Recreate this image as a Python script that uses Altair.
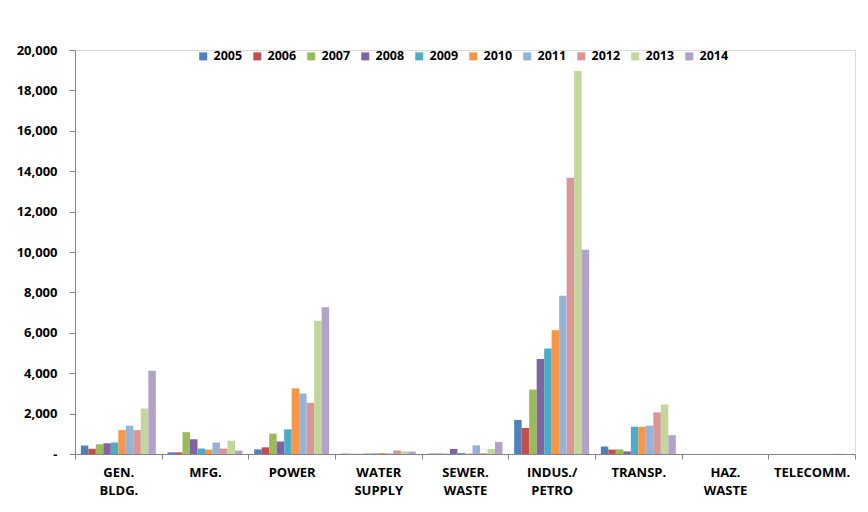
import altair as alt
import pandas as pd

categories = ["GEN.|BLDG.", "MFG.", "POWER", "WATER|SUPPLY", "SEWER.|WASTE",
              "INDUS./|PETRO", "TRANSP.", "HAZ.|WASTE", "TELECOMM."]
years = ["2005", "2006", "2007", "2008", "2009", "2010", "2011", "2012", "2013", "2014"]
colors = ["#4F81BD", "#C0504D", "#9BBB59", "#8064A2", "#4BACC6",
          "#F79646", "#95B3D7", "#D99694", "#C3D69B", "#B2A2C7"]

gen_bldg = [420, 260, 480, 530, 570, 1180, 1400, 1180, 2250, 4120]
mfg = [80, 80, 1080, 730, 270, 220, 570, 270, 660, 170]
power = [230, 330, 1010, 620, 1220, 3250, 2990, 2530, 6600, 7270]
water_supply = [20, 10, 10, 20, 30, 50, 30, 180, 130, 120]
sewer_waste = [20, 20, 20, 250, 50, 20, 430, 40, 250, 590]
indus_petro = [1680, 1290, 3190, 4700, 5220, 6130, 7840, 13680, 18960, 10110]
transp = [370, 220, 230, 130, 1350, 1350, 1400, 2060, 2450, 930]
haz_waste = [0, 0, 0, 0, 0, 0, 0, 0, 0, 0]
telecomm = [0, 0, 0, 0, 0, 0, 0, 0, 20, 0]

series = [gen_bldg, mfg, power, water_supply, sewer_waste, indus_petro, transp, haz_waste, telecomm]
rows = []
for cat, vals in zip(categories, series):
    for yr, v in zip(years, vals):
        rows.append({"category": cat, "year": yr, "value": v})
df = pd.DataFrame(rows)

FONT = "Open Sans"

chart = alt.Chart(df).mark_bar().encode(
    x=alt.X("category:N", sort=categories, title=None,
            scale=alt.Scale(paddingInner=0, paddingOuter=0),
            axis=alt.Axis(labelAngle=0, labelExpr="split(datum.label, '|')",
                          tickBand="extent", tickSize=5, labelPadding=7,
                          labelFont=FONT, labelFontSize=13, labelFontWeight="bold",
                          labelColor="#000000", domainColor="#868686", tickColor="#868686",
                          labelLineHeight=18, labelBaseline="top")),
    xOffset=alt.XOffset("year:N", sort=years,
                        scale=alt.Scale(paddingInner=0, paddingOuter=0.78)),
    y=alt.Y("value:Q", title=None,
            scale=alt.Scale(domain=[0, 20000], nice=False),
            axis=alt.Axis(values=list(range(0, 20001, 2000)), grid=False,
                          labelExpr="datum.value == 0 ? '-' : format(datum.value, ',')",
                          tickSize=6, labelPadding=12,
                          labelFont=FONT, labelFontSize=13, labelFontWeight="bold",
                          labelColor="#000000", domainColor="#868686", tickColor="#868686")),
    color=alt.Color("year:N", sort=years,
                    scale=alt.Scale(domain=years, range=colors),
                    legend=alt.Legend(title=None, orient="none", direction="horizontal",
                                      legendX=122, legendY=0, columns=10,
                                      symbolType="square", symbolSize=64,
                                      symbolStrokeWidth=0, labelOffset=4, columnPadding=8,
                                      labelFont=FONT, labelFontSize=12.5,
                                      labelFontWeight="bold", labelColor="#000000")),
).properties(
    width=780, height=404,
    autosize=alt.AutoSizeParams(type="none"),
    padding={"left": 75, "top": 50, "right": 13, "bottom": 58},
).configure_view(stroke=None).configure(background="white")

chart.save("out.html", embed_options={"renderer": "svg", "actions": False})
